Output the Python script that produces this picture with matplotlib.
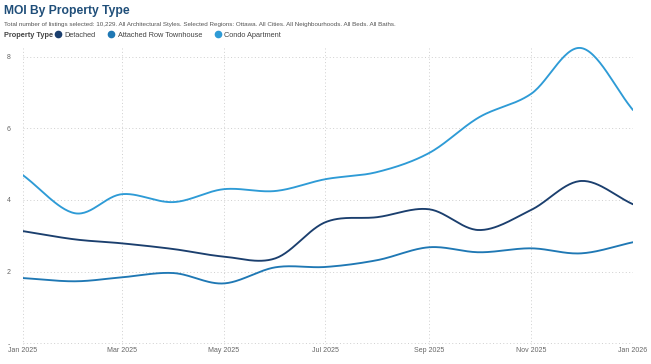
"""
MOI By Property Type
Smoothed monthly line chart
"""

from datetime import date

import numpy as np
import matplotlib
matplotlib.use("Agg")
import matplotlib.pyplot as plt
import matplotlib.dates as mdates
from matplotlib.lines import Line2D


# ==========================================================
# DATA
# ==========================================================

months = [
    "2025-01-01", "2025-02-01", "2025-03-01", "2025-04-01",
    "2025-05-01", "2025-06-01", "2025-07-01", "2025-08-01",
    "2025-09-01", "2025-10-01", "2025-11-01", "2025-12-01",
    "2026-01-01",
]

detached = [3.13, 2.90, 2.79, 2.63, 2.42, 2.37, 3.38, 3.52, 3.74, 3.16, 3.72, 4.53, 3.88]
townhouse = [1.82, 1.73, 1.84, 1.96, 1.67, 2.12, 2.13, 2.32, 2.68, 2.54, 2.65, 2.51, 2.82]
condo = [4.69, 3.63, 4.16, 3.94, 4.30, 4.25, 4.58, 4.78, 5.31, 6.31, 6.96, 8.24, 6.51]

series_names = ["Detached", "Attached Row Townhouse", "Condo Apartment"]
series_colors = ["#1b3f6e", "#1f78b4", "#2e9bd6"]

x_ticks = ["2025-01-01", "2025-03-01", "2025-05-01", "2025-07-01",
           "2025-09-01", "2025-11-01", "2026-01-01"]
y_ticks = [0, 2, 4, 6, 8]
y_tick_labels = ["-", "2", "4", "6", "8"]

title = "MOI By Property Type"
subtitle = ("Total number of listings selected: 10,229. All Architectural Styles. "
            "Selected Regions: Ottawa. All Cities. All Neighbourhoods. All Beds. All Baths.")


# ==========================================================
# SMOOTH LINE (catmull-rom, for drawing only)
# ==========================================================

def smooth(x, y, steps=30):

    x = np.asarray(x, dtype=float)
    y = np.asarray(y, dtype=float)

    px = np.concatenate([[2 * x[0] - x[1]], x, [2 * x[-1] - x[-2]]])
    py = np.concatenate([[2 * y[0] - y[1]], y, [2 * y[-1] - y[-2]]])

    xs, ys = [], []
    t = np.linspace(0, 1, steps, endpoint=False)

    for i in range(1, len(px) - 2):
        for p, out in ((px, xs), (py, ys)):
            p0, p1, p2, p3 = p[i - 1], p[i], p[i + 1], p[i + 2]
            out.append(
                0.5 * (2 * p1
                       + (-p0 + p2) * t
                       + (2 * p0 - 5 * p1 + 4 * p2 - p3) * t ** 2
                       + (-p0 + 3 * p1 - 3 * p2 + p3) * t ** 3)
            )

    xs.append([x[-1]])
    ys.append([y[-1]])

    return np.concatenate(xs), np.concatenate(ys)


# ==========================================================
# PLOT
# ==========================================================

def main():

    plt.rcParams["font.family"] = ["Liberation Sans", "DejaVu Sans"]

    fig = plt.figure(figsize=(6.51, 3.64), dpi=100)
    ax = fig.add_axes([0.0353, 0.052, 0.937, 0.819])

    xd = mdates.date2num([date.fromisoformat(m) for m in months])

    for values, name, color in zip([detached, townhouse, condo], series_names, series_colors):
        sx, sy = smooth(xd, values)
        ax.plot(sx, sy, color=color, linewidth=1.35, label=name,
                solid_capstyle="round")

    ax.set_xlim(xd[0], xd[-1])
    ax.set_ylim(-0.05, 8.27)

    tick_pos = mdates.date2num([date.fromisoformat(m) for m in x_ticks])
    ax.set_xticks(tick_pos)
    ax.set_xticklabels([date.fromisoformat(m).strftime("%b %Y") for m in x_ticks])
    ax.set_yticks(y_ticks)
    ax.set_yticklabels(y_tick_labels)

    ax.tick_params(length=0, labelsize=5, labelcolor="#666666")
    ax.tick_params(axis="x", pad=1.5)
    ax.tick_params(axis="y", pad=9)

    ax.grid(True, linestyle=(0, (1, 2.5)), color="#cfcfcf", linewidth=0.7)
    ax.set_axisbelow(True)

    for side in ax.spines.values():
        side.set_visible(False)

    # ------------------------------------------------------
    # TITLES AND LEGEND
    # ------------------------------------------------------

    fig.text(0.006, 0.970, title, fontsize=8.7, fontweight="bold",
             color="#1f4e79", va="center")
    fig.text(0.006, 0.934, subtitle, fontsize=4.5, color="#555555", va="center")
    fig.text(0.006, 0.903, "Property Type", fontsize=5.3, fontweight="bold",
             color="#444444", va="center")

    handles = [
        Line2D([], [], marker="o", linestyle="", markersize=4.5,
               markerfacecolor=c, markeredgecolor=c)
        for c in series_colors
    ]
    fig.legend(handles, series_names, loc="center left",
               bbox_to_anchor=(0.078, 0.903), ncol=3, frameon=False,
               fontsize=5.3, handletextpad=-0.1, columnspacing=1.1,
               borderaxespad=0, borderpad=0, labelcolor="#444444")

    fig.savefig("out.png", dpi=100)


if __name__ == "__main__":
    main()
